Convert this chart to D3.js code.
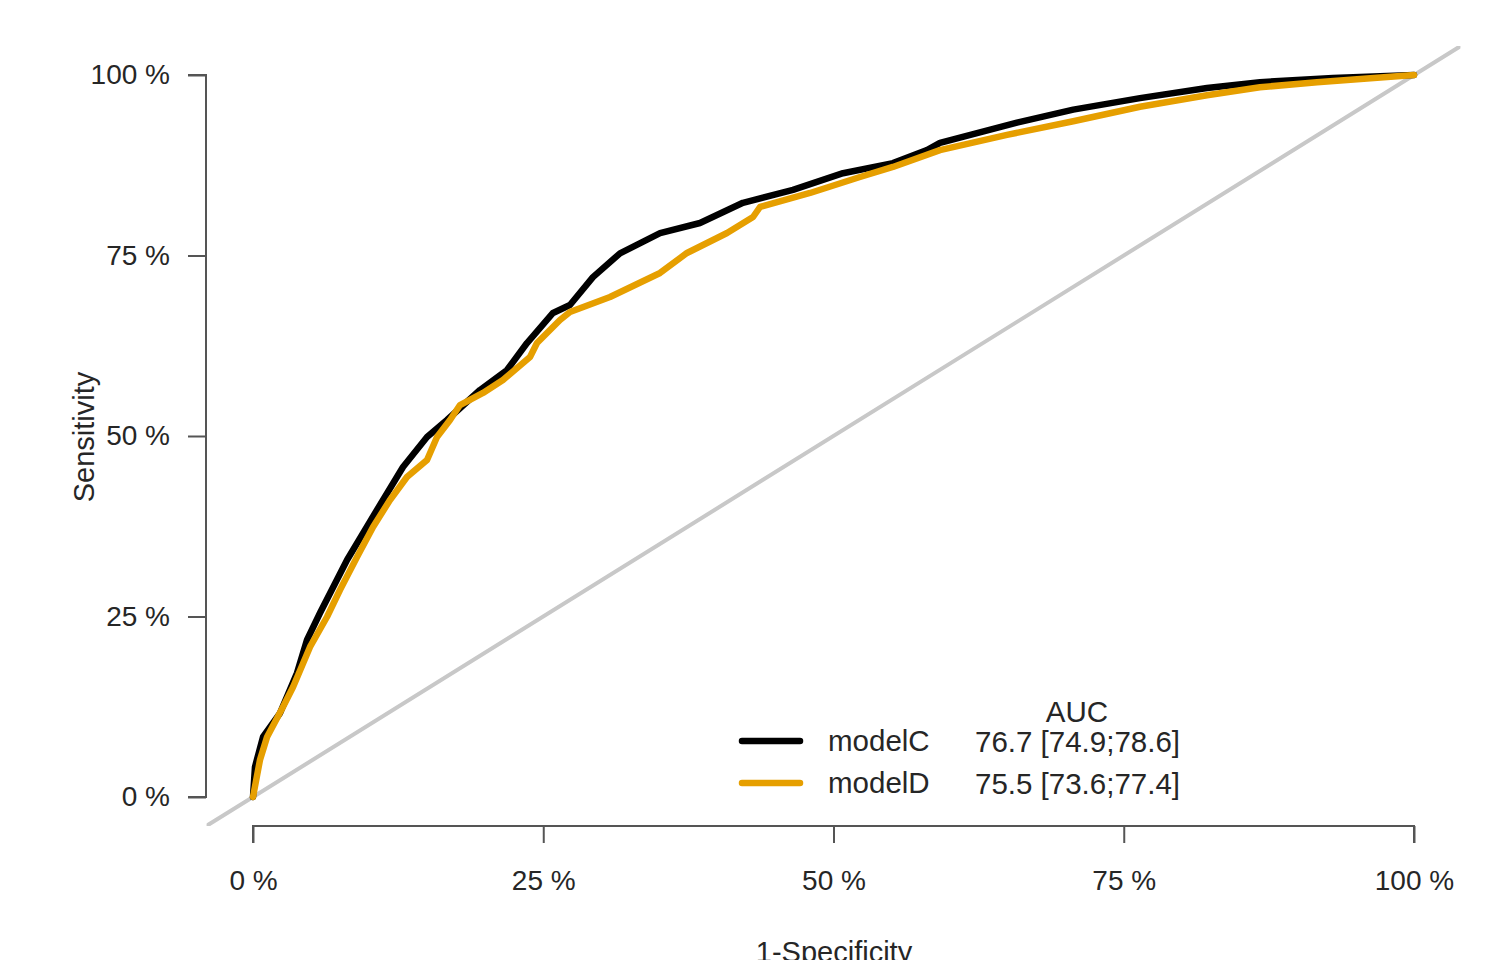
<!DOCTYPE html>
<html lang="en">

<head>
    <meta charset="UTF-8">
    <title>ROC curves modelC / modelD</title>
    <style>
        body {
            margin: 0;
            background: #fff;
        }

        text {
            font-family: "Liberation Sans", Arial, sans-serif;
            fill: #262626;
        }

        .axis-line {
            stroke: #555;
            stroke-width: 2px;
            fill: none;
        }

        .roc {
            fill: none;
            stroke-width: 6.5px;
            stroke-linejoin: round;
            stroke-linecap: round;
        }
    </style>
</head>

<body>
    <svg id="chart" width="1512" height="960"></svg>

    <script src="https://cdn.jsdelivr.net/npm/d3@7"></script>
    <script>
        // 1-specificity / sensitivity, in percent
        const modelC_fpr = [0, 0.17, 0.86, 2.33, 3.79, 4.65, 5.77, 8.10, 10.68, 12.92, 14.99, 16.71, 19.55, 21.88,
            23.60, 25.84, 27.30, 29.28, 31.61, 35.06, 38.50, 42.20, 46.51, 50.82, 55.12, 58.05, 59.17, 65.80,
            70.65, 76.40, 82.17, 86.73, 93.02, 100];
        const modelC_tpr = [0, 4.16, 8.31, 11.63, 17.17, 21.75, 25.48, 32.83, 39.75, 45.71, 49.86, 52.22, 56.37, 59.14,
            62.88, 67.04, 68.14, 72.0, 75.3, 78.1, 79.5, 82.3, 84.1, 86.4, 87.8, 89.6, 90.6, 93.4,
            95.2, 96.8, 98.2, 99.0, 99.6, 100];

        const modelD_fpr = [0, 0.60, 1.21, 2.58, 3.45, 4.91, 6.37, 7.49, 8.96, 10.34, 11.80, 13.26, 14.99, 15.85,
            16.97, 17.83, 19.81, 21.53, 23.86, 24.46, 26.44, 27.30, 30.75, 35.06, 37.38, 40.83, 43.07, 43.67,
            47.98, 52.28, 55.12, 59.17, 64.94, 70.65, 76.40, 82.17, 86.73, 91.65, 100];
        const modelD_tpr = [0, 5.12, 8.31, 12.47, 15.24, 20.78, 24.93, 28.67, 33.24, 37.40, 41.14, 44.32, 46.68, 49.86,
            52.22, 54.29, 55.96, 57.76, 60.94, 62.88, 66.07, 67.17, 69.25, 72.58, 75.35, 78.12, 80.33, 81.72,
            83.66, 85.87, 87.26, 89.6, 91.7, 93.6, 95.6, 97.2, 98.3, 99.0, 100];

        const models = ["modelC", "modelD"];
        const colors = ["#000000", "#E69F00"];
        const aucLabels = ["76.7 [74.9;78.6]", "75.5 [73.6;77.4]"];
        const ticks = [0, 25, 50, 75, 100];

        const svg = d3.select("#chart");

        const x = d3.scaleLinear().domain([0, 100]).range([253, 1414]);
        const y = d3.scaleLinear().domain([0, 100]).range([797, 75]);

        // plot region (R adds 4% on each side)
        svg.append("clipPath").attr("id", "plot-clip")
            .append("rect")
            .attr("x", x(-4)).attr("y", y(104))
            .attr("width", x(104) - x(-4)).attr("height", y(-4) - y(104));

        const plot = svg.append("g").attr("clip-path", "url(#plot-clip)");

        // reference diagonal
        plot.append("line")
            .attr("x1", x(-4)).attr("y1", y(-4))
            .attr("x2", x(104)).attr("y2", y(104))
            .attr("stroke", "#c8c8c8")
            .attr("stroke-width", 4)
            .attr("stroke-linecap", "round");

        const line = d3.line().x(d => x(d[0])).y(d => y(d[1]));
        const series = [d3.zip(modelC_fpr, modelC_tpr), d3.zip(modelD_fpr, modelD_tpr)];

        series.forEach((pts, i) => {
            plot.append("path")
                .attr("class", "roc")
                .attr("stroke", colors[i])
                .attr("d", line(pts));
        });

        // y axis
        const yAxis = svg.append("g").attr("transform", `translate(206,0)`)
            .call(d3.axisLeft(y).tickValues(ticks).tickSize(18).tickPadding(18).tickFormat(d => d + " %"));
        yAxis.select(".domain").attr("class", "axis-line").attr("d", `M-18,${y(100)}H0V${y(0)}H-18`);
        yAxis.selectAll(".tick line").attr("stroke", "#555").attr("stroke-width", 2);
        yAxis.selectAll(".tick text").attr("font-size", 28).attr("fill", "#262626")
            .attr("font-family", "Liberation Sans, Arial, sans-serif");

        // x axis
        const xAxis = svg.append("g").attr("transform", `translate(0,826)`)
            .call(d3.axisBottom(x).tickValues(ticks).tickSize(17).tickPadding(27).tickFormat(d => d + " %"));
        xAxis.select(".domain").attr("class", "axis-line").attr("d", `M${x(0)},17V0H${x(100)}V17`);
        xAxis.selectAll(".tick line").attr("stroke", "#555").attr("stroke-width", 2);
        xAxis.selectAll(".tick text").attr("font-size", 28).attr("fill", "#262626")
            .attr("font-family", "Liberation Sans, Arial, sans-serif");

        // axis titles
        svg.append("text")
            .attr("transform", "translate(94,437) rotate(-90)")
            .attr("text-anchor", "middle")
            .attr("font-size", 29)
            .text("Sensitivity");

        svg.append("text")
            .attr("x", 834).attr("y", 962)
            .attr("text-anchor", "middle")
            .attr("font-size", 29)
            .text("1-Specificity");

        // legend
        const legend = svg.append("g");
        legend.append("text")
            .attr("x", 1077).attr("y", 722)
            .attr("text-anchor", "middle")
            .attr("font-size", 29.5)
            .text("AUC");

        models.forEach((m, i) => {
            const ly = 741 + i * 42;
            legend.append("line")
                .attr("x1", 742).attr("x2", 800)
                .attr("y1", ly).attr("y2", ly)
                .attr("stroke", colors[i])
                .attr("stroke-width", 6.5)
                .attr("stroke-linecap", "round");
            legend.append("text")
                .attr("x", 828).attr("y", ly + 10)
                .attr("font-size", 29.5)
                .text(m);
            legend.append("text")
                .attr("x", 975).attr("y", ly + 11)
                .attr("font-size", 29.5)
                .text(aucLabels[i]);
        });
    </script>
</body>

</html>
